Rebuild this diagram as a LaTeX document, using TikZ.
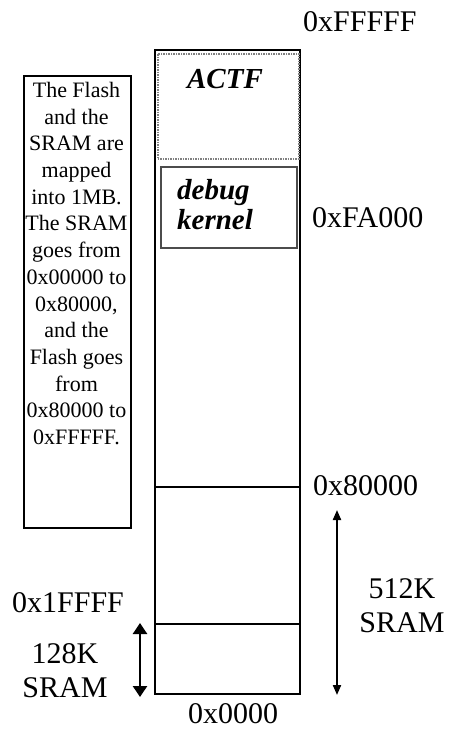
\documentclass[tikz,border=0pt]{standalone}
\usepackage{fontspec}
\setmainfont{Liberation Serif}
\usetikzlibrary{arrows.meta}
\begin{document}
\begin{tikzpicture}[x=1pt,y=-1pt,
  lbl/.style={font=\fontsize{30}{34}\selectfont, inner sep=0pt, anchor=base west},
  clbl/.style={font=\fontsize{30}{34}\selectfont, inner sep=0pt, anchor=base},
  bi/.style={font=\fontsize{29}{30}\selectfont\bfseries\itshape, inner sep=0pt},
  colline/.style={line width=1.5pt, black},
  sizearrow/.style={line width=2pt, {Triangle[width=8pt,length=10pt]}-{Triangle[width=8pt,length=10pt]}},
  smallarrow/.style={line width=2.5pt, {Triangle[width=14pt,length=11pt]}-{Triangle[width=14pt,length=11pt]}}
]
\useasboundingbox (0,0) rectangle (455,729);

% memory column
\draw[colline] (155,50) rectangle (300,694);
\draw[line width=1.5pt] (155,487) -- (300,487);
\draw[line width=2.5pt] (155,624) -- (300,624);

% ACTF region
\node[draw=gray, densely dotted, line width=1.5pt, minimum width=141pt, minimum height=105pt, inner sep=0pt, anchor=north west] (actfbox) at (157,53) {};
\node[bi, anchor=base] (actf) at (225,88) {ACTF};

% debug kernel region
\node[draw=black!70, line width=1.5pt, minimum width=136pt, minimum height=81pt, inner sep=0pt, anchor=north west] (dbgbox) at (160,166) {};
\node[bi, anchor=base west] (debug) at (177,199) {debug};
\node[bi, anchor=base west] (kernel) at (177,229) {kernel};

% note box
\node[draw, line width=1.5pt, minimum width=107pt, minimum height=452pt, inner sep=0pt, anchor=north west] (notebox) at (23,75) {};
\node[font=\fontsize{22}{26.7}\selectfont, align=center, inner sep=0pt, anchor=north] (note) at (76.5,82)
 {The Flash\\and the\\SRAM are\\mapped\\into 1MB.\\The SRAM\\goes from\\0x00000 to\\0x80000,\\and the\\Flash goes\\from\\0x80000 to\\0xFFFFF.};

% address labels
\node[lbl] (ffff) at (303,31) {0xFFFFF};
\node[lbl] (fa000) at (312,227) {0xFA000};
\node[lbl] (l80000) at (313,495) {0x80000};
\node[lbl] (l1ffff) at (12,612) {0x1FFFF};
\node[clbl] (l0000) at (233,723) {0x0000};

% size labels
\node[clbl] (s512a) at (402,598) {512K};
\node[clbl] (s512b) at (402,632) {SRAM};
\node[clbl] (s128a) at (65,663) {128K};
\node[clbl] (s128b) at (65,697) {SRAM};

% arrows
\coordinate (a512top) at (337,510);
\coordinate (a512bot) at (337,695);
\coordinate (a128top) at (140,623);
\coordinate (a128bot) at (140,697);
\draw[sizearrow] (a512top) -- (a512bot);
\draw[smallarrow] (a128top) -- (a128bot);
\end{tikzpicture}
\end{document}
